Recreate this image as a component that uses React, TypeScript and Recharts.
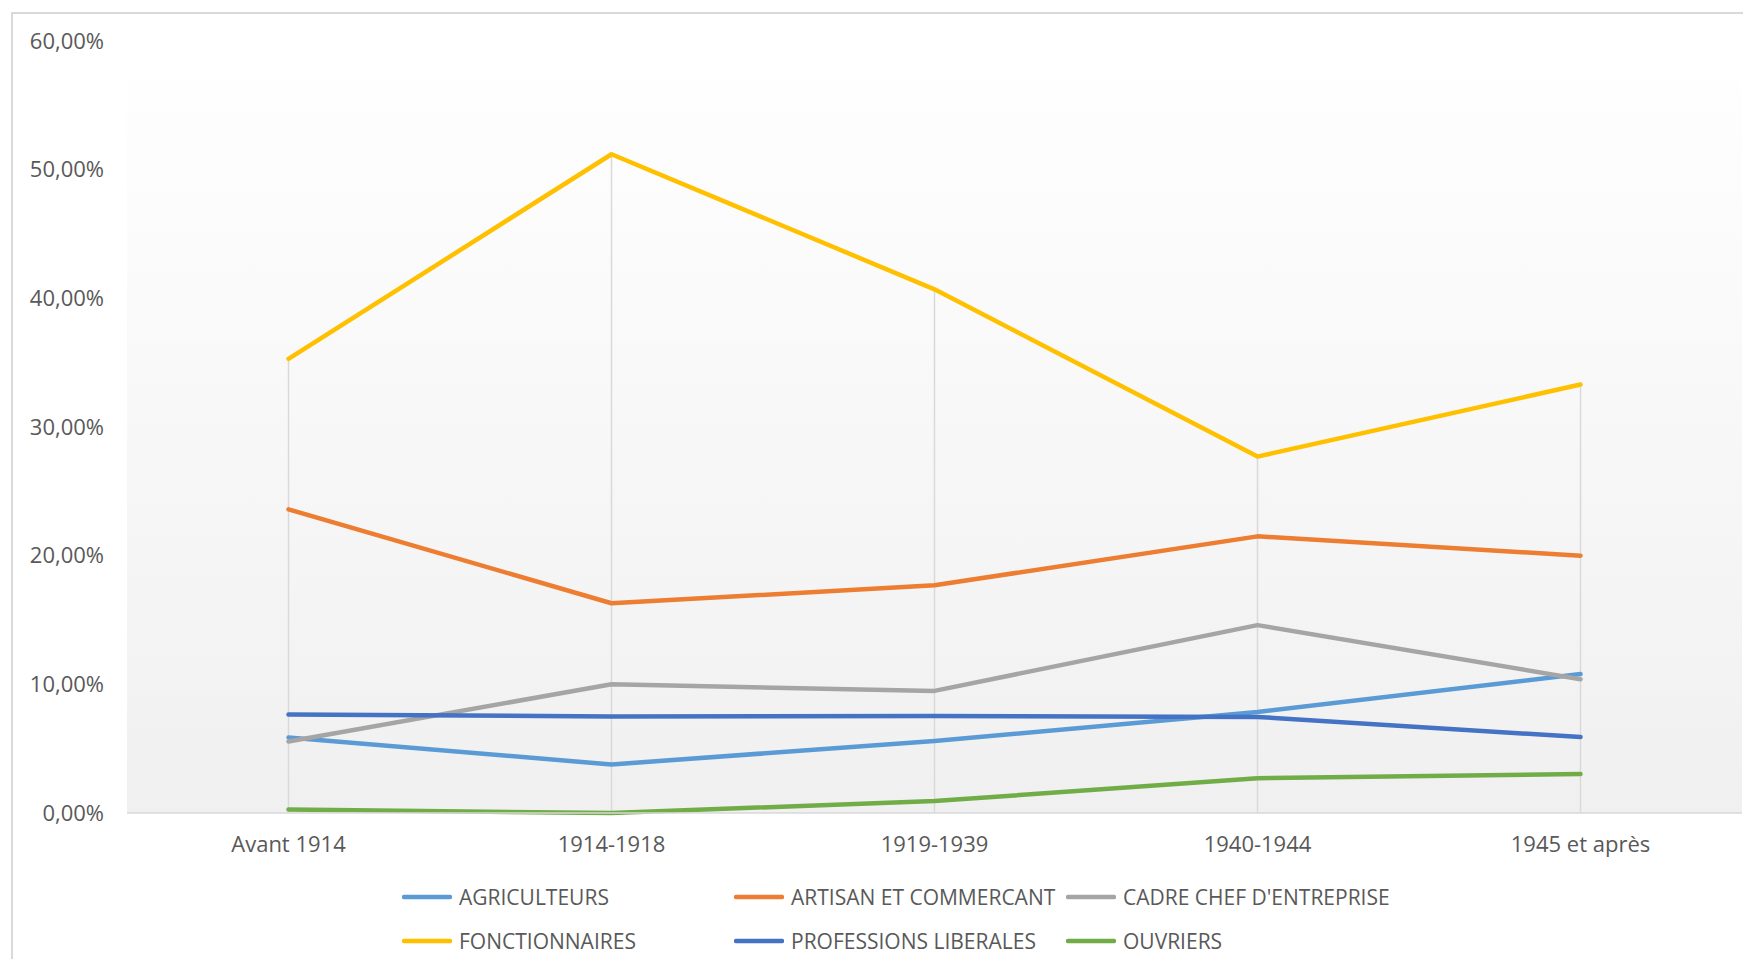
import { LineChart, Line, XAxis, YAxis, CartesianGrid, Legend, ReferenceLine } from 'recharts'

const periods = ['Avant 1914', '1914-1918', '1919-1939', '1940-1944', '1945 et après']
const agriculteurs = [5.87, 3.77, 5.6, 7.85, 10.8]
const artisans = [23.6, 16.3, 17.7, 21.5, 20.0]
const cadres = [5.56, 10.0, 9.49, 14.6, 10.4]
const fonctionnaires = [35.3, 51.2, 40.7, 27.7, 33.3]
const professionsLiberales = [7.66, 7.5, 7.54, 7.47, 5.9]
const ouvriers = [0.27, 0.0, 0.93, 2.7, 3.03]
const yTicks = [0, 10, 20, 30, 40, 50, 60]

const series = [
    { key: 'agri', name: 'AGRICULTEURS', color: '#5B9BD5', values: agriculteurs },
    { key: 'arti', name: 'ARTISAN ET COMMERCANT', color: '#ED7D31', values: artisans },
    { key: 'cadre', name: "CADRE CHEF D'ENTREPRISE", color: '#A5A5A5', values: cadres },
    { key: 'fonc', name: 'FONCTIONNAIRES', color: '#FFC000', values: fonctionnaires },
    { key: 'prof', name: 'PROFESSIONS LIBERALES', color: '#4472C4', values: professionsLiberales },
    { key: 'ouv', name: 'OUVRIERS', color: '#70AD47', values: ouvriers },
]

const data = periods.map((period, i) => {
    const row: any = { period }
    series.forEach(s => { row[s.key] = s.values[i] })
    return row
})

// drop lines go from the axis up to the highest series at each period
const dropTops = periods.map((_, i) => Math.max(...series.map(s => s.values[i])))

const textColor = '#595959'
const font = "'Open Sans', sans-serif"

const fmtPct = (v: number) => `${v.toFixed(2).replace('.', ',')}%`

function LegendBox() {
    return (
        <div style={{ height: 98, overflow: 'visible', paddingLeft: 389, paddingTop: 14, boxSizing: 'border-box', fontFamily: font }}>
            <div style={{ display: 'grid', gridTemplateColumns: '332px 332px 332px' }}>
                {series.map(s => (
                    <div key={s.key} style={{ height: 44, display: 'flex', alignItems: 'center' }}>
                        <svg width={50} height={8} style={{ flex: 'none' }}>
                            <line x1={2} y1={4} x2={48} y2={4} stroke={s.color} strokeWidth={4.5} strokeLinecap="round" />
                        </svg>
                        <span style={{ marginLeft: 7, fontSize: 21, color: textColor, whiteSpace: 'nowrap' }}>{s.name}</span>
                    </div>
                ))}
            </div>
        </div>
    )
}

export default function App() {
    return (
        <div style={{ padding: '4px 0 0 3px' }}>
            <div style={{ width: 1730, height: 945, borderLeft: '2px solid #d9d9d9', borderTop: '2px solid #d9d9d9', background: '#fff' }}>
                <LineChart width={1730} height={945} data={data} margin={{ top: 27, right: 1, left: 0, bottom: 0 }} style={{ fontFamily: font }}>
                    <defs>
                        <linearGradient id="plotBg" x1="0" y1="0" x2="0" y2="1">
                            <stop offset="0%" stopColor="#ffffff" />
                            <stop offset="100%" stopColor="#f0f0f0" />
                        </linearGradient>
                    </defs>
                    <CartesianGrid horizontal={false} vertical={false} fill="url(#plotBg)" />
                    <XAxis
                        dataKey="period"
                        scale="band"
                        height={48}
                        axisLine={{ stroke: '#d9d9d9', strokeWidth: 1.5 }}
                        tickLine={false}
                        tickMargin={17}
                        tick={{ fontSize: 22, fill: textColor }}
                    />
                    <YAxis
                        width={114}
                        domain={[0, 60]}
                        ticks={yTicks}
                        axisLine={false}
                        tickLine={false}
                        tickMargin={17}
                        tickFormatter={fmtPct}
                        tick={{ fontSize: 22, fill: textColor }}
                    />
                    {periods.map((p, i) => (
                        <ReferenceLine
                            key={p}
                            segment={[{ x: p, y: 0 }, { x: p, y: dropTops[i] }]}
                            stroke="#d9d9d9"
                            strokeWidth={1.5}
                            ifOverflow="visible"
                        />
                    ))}
                    {series.map(s => (
                        <Line
                            key={s.key}
                            type="linear"
                            dataKey={s.key}
                            name={s.name}
                            stroke={s.color}
                            strokeWidth={4.5}
                            strokeLinecap="round"
                            strokeLinejoin="round"
                            dot={false}
                            activeDot={false}
                            isAnimationActive={false}
                        />
                    ))}
                    <Legend verticalAlign="bottom" align="left" content={() => <LegendBox />} />
                </LineChart>
            </div>
        </div>
    )
}
